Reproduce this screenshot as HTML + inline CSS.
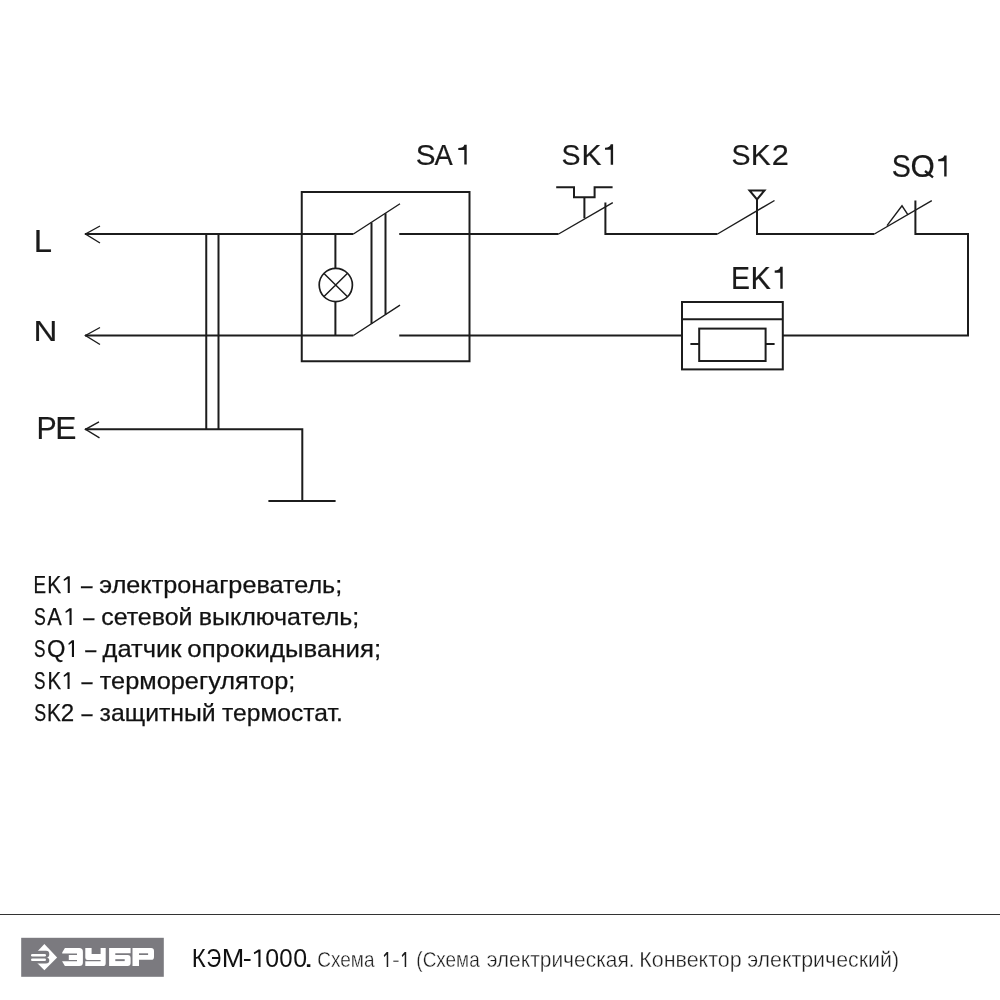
<!DOCTYPE html>
<html><head><meta charset="utf-8">
<style>
html,body{margin:0;padding:0;background:#fff;width:1000px;height:1000px;overflow:hidden}
svg{display:block;will-change:transform}
text{font-family:"Liberation Sans",sans-serif}
</style></head>
<body>
<svg width="1000" height="1000" viewBox="0 0 1000 1000">
<g fill="none" stroke="#1c1c1c" stroke-width="2">
 <path d="M85 234H353.4 M85 335.5H353.4 M85 429.3H302.3V501 M268.4 501H335.6"/>
 <path d="M100 226L85.5 234L100 243 M100 327.5L85.5 335.5L100 344.5 M99 421.8L85.5 429.3L99.5 437.8" stroke-width="1.4"/>
 <path d="M206.25 234V429.3 M218.5 234V429.3"/>
 <rect x="301.75" y="192" width="167.75" height="169.25"/>
 <path d="M335.4 234V268.5 M335.4 301.5V335.5"/>
 <circle cx="335.8" cy="285" r="16.6" stroke-width="1.7"/>
 <path d="M324 273.5L347.3 296.5 M347.3 273.5L324 296.5" stroke-width="1.5"/>
 <path d="M353.4 234L400 203.75 M353.4 335.5L400 305.1" stroke-width="1.4"/>
 <path d="M371.5 222.4V323.7 M385.5 213.3V314.6"/>
 <path d="M399.25 234H558.6 M399.25 335.5H682"/>
 <path d="M558.6 234L612.8 202.6" stroke-width="1.4"/>
 <path d="M605.4 202.6V234H717.5"/>
 <path d="M556.2 187.2H574V197.2H594.6V187.2H612.6 M584.4 197.2V218.2"/>
 <path d="M717.5 234L774.5 200.5" stroke-width="1.4"/>
 <path d="M757 199.5V234H874.4"/>
 <path d="M749.5 190.5H764.5L757 199.5Z"/>
 <path d="M874.4 234L931.8 200.6" stroke-width="1.4"/>
 <path d="M915.4 200.6V234H968V335.5H782.8"/>
 <path d="M887 225.6L902 205.8L908 214.8" stroke-width="1.4"/>
 <rect x="682" y="302" width="100.8" height="67.4"/>
 <path d="M682 319.2H782.8"/>
 <rect x="699.2" y="328.6" width="66.4" height="32.4"/>
 <path d="M690.4 344H699.2 M765.6 344H774.6"/>
 <path d="M0 914.5H1000" stroke="#333" stroke-width="1.15"/>
</g>
<text x="33.80" y="252" font-size="30.52" fill="#1a1a1a" textLength="18.29" lengthAdjust="spacingAndGlyphs" stroke="#1a1a1a" stroke-width="0.2">L</text><text x="33.48" y="341.1" font-size="29.94" fill="#1a1a1a" textLength="23.92" lengthAdjust="spacingAndGlyphs" stroke="#1a1a1a" stroke-width="0.2">N</text><text x="36.52" y="438.6" font-size="31.25" fill="#1a1a1a" textLength="20.18" lengthAdjust="spacingAndGlyphs" stroke="#1a1a1a" stroke-width="0.2">P</text><text x="55.30" y="438.6" font-size="31.25" fill="#1a1a1a" textLength="21.17" lengthAdjust="spacingAndGlyphs" stroke="#1a1a1a" stroke-width="0.2">E</text><text x="415.65" y="164.5" font-size="28.78" fill="#1a1a1a" textLength="19.81" lengthAdjust="spacingAndGlyphs" stroke="#1a1a1a" stroke-width="0.2">S</text><text x="434.55" y="164.5" font-size="28.78" fill="#1a1a1a" textLength="18.21" lengthAdjust="spacingAndGlyphs" stroke="#1a1a1a" stroke-width="0.2">A</text><path fill="#1a1a1a" d="M464.30 144.70H466.70V164.50H464.30V150.05H458.30V148.07Q463.70 147.87 464.30 144.70Z"/><text x="561.41" y="164.7" font-size="29.8" fill="#1a1a1a" textLength="19.00" lengthAdjust="spacingAndGlyphs" stroke="#1a1a1a" stroke-width="0.2">S</text><text x="581.54" y="164.7" font-size="29.8" fill="#1a1a1a" textLength="20.00" lengthAdjust="spacingAndGlyphs" stroke="#1a1a1a" stroke-width="0.2">K</text><path fill="#1a1a1a" d="M610.70 144.20H613.10V164.70H610.70V149.73H605.00V147.69Q610.10 147.48 610.70 144.20Z"/><text x="731.41" y="164.5" font-size="29.65" fill="#1a1a1a" textLength="19.00" lengthAdjust="spacingAndGlyphs" stroke="#1a1a1a" stroke-width="0.2">S</text><text x="750.84" y="164.5" font-size="29.65" fill="#1a1a1a" textLength="20.00" lengthAdjust="spacingAndGlyphs" stroke="#1a1a1a" stroke-width="0.2">K</text><text x="771.75" y="164.5" font-size="29.65" fill="#1a1a1a" textLength="17.09" lengthAdjust="spacingAndGlyphs" stroke="#1a1a1a" stroke-width="0.2">2</text><text x="891.70" y="176.6" font-size="30.52" fill="#1a1a1a" textLength="19.12" lengthAdjust="spacingAndGlyphs" stroke="#1a1a1a" stroke-width="0.2">S</text><text x="910.52" y="176.6" font-size="30.52" fill="#1a1a1a" textLength="24.27" lengthAdjust="spacingAndGlyphs" stroke="#1a1a1a" stroke-width="0.2">O</text><path d="M925 171L933 177.3" stroke="#1a1a1a" stroke-width="2.3" fill="none"/><path fill="#1a1a1a" d="M944.20 155.60H946.60V176.60H944.20V161.27H938.20V159.17Q943.60 158.96 944.20 155.60Z"/><text x="731.07" y="288.7" font-size="31.98" fill="#1a1a1a" textLength="18.95" lengthAdjust="spacingAndGlyphs" stroke="#1a1a1a" stroke-width="0.2">E</text><text x="750.50" y="288.7" font-size="31.98" fill="#1a1a1a" textLength="20.34" lengthAdjust="spacingAndGlyphs" stroke="#1a1a1a" stroke-width="0.2">K</text><path fill="#1a1a1a" d="M780.30 266.70H782.70V288.70H780.30V272.64H774.70V270.44Q779.70 270.22 780.30 266.70Z"/><text x="33.56" y="593" font-size="24" fill="#111" textLength="12.55" lengthAdjust="spacingAndGlyphs" stroke="#111" stroke-width="0.25">E</text><text x="47.18" y="593" font-size="24" fill="#111" textLength="13.95" lengthAdjust="spacingAndGlyphs" stroke="#111" stroke-width="0.25">K</text><path fill="#111" d="M67.70 576.20H69.80V593.00H67.70V578.80L64.00 581.10L63.60 579.40Z"/><text x="81.00" y="593" font-size="24" fill="#111" textLength="11.51" lengthAdjust="spacingAndGlyphs" stroke="#111" stroke-width="0.25">–</text><text x="99.33" y="593" font-size="24" fill="#111" textLength="242.91" lengthAdjust="spacingAndGlyphs" stroke="#111" stroke-width="0.25">электронагреватель;</text><text x="34.00" y="625" font-size="24" fill="#111" textLength="11.82" lengthAdjust="spacingAndGlyphs" stroke="#111" stroke-width="0.25">S</text><text x="47.36" y="625" font-size="24" fill="#111" textLength="14.48" lengthAdjust="spacingAndGlyphs" stroke="#111" stroke-width="0.25">A</text><path fill="#111" d="M69.50 608.20H71.60V625.00H69.50V610.80L65.80 613.10L65.40 611.40Z"/><text x="83.30" y="625" font-size="24" fill="#111" textLength="11.11" lengthAdjust="spacingAndGlyphs" stroke="#111" stroke-width="0.25">–</text><text x="101.16" y="625" font-size="24" fill="#111" textLength="91.35" lengthAdjust="spacingAndGlyphs" stroke="#111" stroke-width="0.25">сетевой</text><text x="198.69" y="625" font-size="24" fill="#111" textLength="160.64" lengthAdjust="spacingAndGlyphs" stroke="#111" stroke-width="0.25">выключатель;</text><text x="34.02" y="657" font-size="24" fill="#111" textLength="11.47" lengthAdjust="spacingAndGlyphs" stroke="#111" stroke-width="0.25">S</text><text x="46.88" y="657" font-size="24" fill="#111" textLength="18.46" lengthAdjust="spacingAndGlyphs" stroke="#111" stroke-width="0.25">Q</text><path fill="#111" d="M71.90 640.20H74.00V657.00H71.90V642.80L68.80 645.10L68.40 643.40Z"/><text x="85.30" y="657" font-size="24" fill="#111" textLength="11.01" lengthAdjust="spacingAndGlyphs" stroke="#111" stroke-width="0.25">–</text><text x="102.55" y="657" font-size="24" fill="#111" textLength="78.92" lengthAdjust="spacingAndGlyphs" stroke="#111" stroke-width="0.25">датчик</text><text x="187.32" y="657" font-size="24" fill="#111" textLength="193.79" lengthAdjust="spacingAndGlyphs" stroke="#111" stroke-width="0.25">опрокидывания;</text><text x="34.02" y="689" font-size="24" fill="#111" textLength="11.47" lengthAdjust="spacingAndGlyphs" stroke="#111" stroke-width="0.25">S</text><text x="47.53" y="689" font-size="24" fill="#111" textLength="13.60" lengthAdjust="spacingAndGlyphs" stroke="#111" stroke-width="0.25">K</text><path fill="#111" d="M67.50 672.20H69.60V689.00H67.50V674.80L64.00 677.10L63.60 675.40Z"/><text x="81.40" y="689" font-size="24" fill="#111" textLength="11.01" lengthAdjust="spacingAndGlyphs" stroke="#111" stroke-width="0.25">–</text><text x="99.77" y="689" font-size="24" fill="#111" textLength="195.49" lengthAdjust="spacingAndGlyphs" stroke="#111" stroke-width="0.25">терморегулятор;</text><text x="34.19" y="721" font-size="24" fill="#111" textLength="11.88" lengthAdjust="spacingAndGlyphs" stroke="#111" stroke-width="0.25">S</text><text x="47.03" y="721" font-size="24" fill="#111" textLength="13.95" lengthAdjust="spacingAndGlyphs" stroke="#111" stroke-width="0.25">K</text><text x="60.79" y="721" font-size="24" fill="#111" textLength="13.43" lengthAdjust="spacingAndGlyphs" stroke="#111" stroke-width="0.25">2</text><text x="81.40" y="721" font-size="24" fill="#111" textLength="11.01" lengthAdjust="spacingAndGlyphs" stroke="#111" stroke-width="0.25">–</text><text x="99.61" y="721" font-size="24" fill="#111" textLength="116.11" lengthAdjust="spacingAndGlyphs" stroke="#111" stroke-width="0.25">защитный</text><text x="222.09" y="721" font-size="24" fill="#111" textLength="120.68" lengthAdjust="spacingAndGlyphs" stroke="#111" stroke-width="0.25">термостат.</text><rect x="21.2" y="937.8" width="142.6" height="39" fill="#7b7a7f"/>
<path d="M44.4 944.1L57.1 957.5L44.4 970.2L31.6 957.5Z" fill="#fff"/>
<path d="M29.5 950.8H46A3.3 3.35 0 0 1 46 957.5A3.3 3.05 0 0 1 46 963.6H29.5Z" fill="#7b7a7f"/>
<rect x="31" y="953.9" width="15" height="2.7" rx="1.35" fill="#fff"/>
<rect x="31" y="958.4" width="15" height="2.7" rx="1.35" fill="#fff"/>
<g fill="#fff">
 <path d="M64.9 948.1H79.3A3.6 3.6 0 0 1 82.9 951.7V962.5A3.6 3.6 0 0 1 79.3 966.1H64.9L62.2 961.6V961.3H77V960H68.8V955H77V953.5H62.2V952.6Z"/>
 <path d="M85.3 948.1H91.6V954H100.6V948.1H105.7V963.2A2.9 2.9 0 0 1 102.8 966.1H85.3V961.3H100.6V960H87.5A2.2 2.2 0 0 1 85.3 957.8Z"/>
 <path d="M109.1 948.1H130.6V953.3H115.3V955H127.7A2.9 2.9 0 0 1 130.6 957.9V963.1A2.9 2.9 0 0 1 127.7 966H109.1Z"/>
 <path d="M132.5 948.1H151.1A2.9 2.9 0 0 1 154 951V956.9A2.9 2.9 0 0 1 151.1 959.8H139V966H132.5Z"/>
</g>
<g fill="#7b7a7f">
 <rect x="115.3" y="959.2" width="9.4" height="1.9"/>
 <rect x="139" y="953.3" width="9.1" height="1.7"/>
</g>
<text x="191.83" y="967" font-size="25.3" fill="#111" textLength="14.01" lengthAdjust="spacingAndGlyphs">К</text><text x="206.45" y="967" font-size="25.3" fill="#111" textLength="14.65" lengthAdjust="spacingAndGlyphs">Э</text><text x="221.78" y="967" font-size="25.3" fill="#111" textLength="22.54" lengthAdjust="spacingAndGlyphs">М</text><text x="242.70" y="967" font-size="25.3" fill="#111" textLength="9.00" lengthAdjust="spacingAndGlyphs">-</text><text x="265.13" y="967" font-size="25.3" fill="#111" textLength="13.84" lengthAdjust="spacingAndGlyphs">0</text><text x="279.16" y="967" font-size="25.3" fill="#111" textLength="13.38" lengthAdjust="spacingAndGlyphs">0</text><text x="293.13" y="967" font-size="25.3" fill="#111" textLength="13.84" lengthAdjust="spacingAndGlyphs">0</text><text x="303.64" y="967" font-size="25.3" fill="#111" textLength="10.21" lengthAdjust="spacingAndGlyphs">.</text><path fill="#111" d="M258.40 949.40H260.50V967.00H258.40V952.00L254.20 954.30L253.80 952.60Z"/><text x="317.24" y="967" font-size="21.8" fill="#1c1c1c" textLength="57.26" lengthAdjust="spacingAndGlyphs" stroke="#fff" stroke-width="0.35">Схема</text><text x="416.33" y="967" font-size="21.8" fill="#1c1c1c" textLength="63.37" lengthAdjust="spacingAndGlyphs" stroke="#fff" stroke-width="0.35">(Схема</text><text x="486.64" y="967" font-size="21.8" fill="#1c1c1c" textLength="147.98" lengthAdjust="spacingAndGlyphs" stroke="#fff" stroke-width="0.35">электрическая.</text><text x="639.24" y="967" font-size="21.8" fill="#1c1c1c" textLength="102.45" lengthAdjust="spacingAndGlyphs" stroke="#fff" stroke-width="0.35">Конвектор</text><text x="747.13" y="967" font-size="21.8" fill="#1c1c1c" textLength="151.89" lengthAdjust="spacingAndGlyphs" stroke="#fff" stroke-width="0.35">электрический)</text><text x="391.94" y="967" font-size="21.8" fill="#1c1c1c" textLength="7.91" lengthAdjust="spacingAndGlyphs" stroke="#fff" stroke-width="0.35">-</text><path fill="#1c1c1c" d="M386.70 952.00H388.20V967.00H386.70V954.60L384.20 956.90L383.80 955.20Z"/><path fill="#1c1c1c" d="M404.70 952.00H406.20V967.00H404.70V954.60L402.20 956.90L401.80 955.20Z"/></svg>
</body></html>
